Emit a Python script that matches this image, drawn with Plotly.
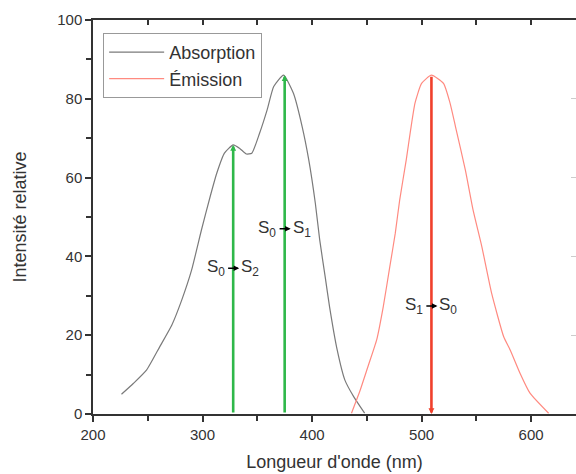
import plotly.graph_objects as go

# ---- data ----
abs_wl = [226, 237, 249, 261, 272, 281, 290, 299, 307, 313, 320, 328, 334, 340, 345,
          352, 359, 365, 374, 383, 391, 397, 403, 407, 412, 416, 423, 430, 438, 448]
abs_int = [5.0, 7.8, 11.2, 17.1, 22.6, 28.9, 36.5, 46.7, 55.2, 61.1, 66.2, 68.3, 67.4, 66.0, 66.2,
           71.2, 77.2, 83.1, 86.0, 81.4, 72.9, 64.5, 53.5, 44.2, 34.8, 27.2, 16.2, 8.6, 4.4, 0.2]

em_wl = [436, 444, 451, 459, 465, 471, 476, 480, 486, 490, 494, 500, 509, 520, 526,
         531, 540, 547, 555, 564, 575, 581, 590, 599, 616]
em_int = [0.2, 6.1, 12.0, 18.8, 27.2, 37.4, 45.9, 54.3, 64.5, 72.1, 78.9, 83.9, 86.0, 83.9, 78.9,
          72.9, 61.9, 51.8, 42.5, 30.6, 19.6, 16.2, 10.3, 5.3, 0.2]

# transitions: wavelength, intensity, from-state, to-state
trans_wl = [328, 375, 509]
trans_int = [68.3, 86.0, 86.0]
trans_from = ["0", "0", "1"]
trans_to = ["2", "1", "0"]
trans_kind = ["abs", "abs", "em"]

x_ticks = [200, 300, 400, 500, 600]
y_ticks = [0, 20, 40, 60, 80, 100]

# ---- style ----
FONT = "Liberation Sans, Arial, sans-serif"
TXT = "#333333"
GRAY = "#7a7a7a"
SALMON = "#ff8a80"
GREEN = "#2fb84a"
RED = "#f0402c"
label_y = [37.0, 47.0, 27.4]

fig = go.Figure()
fig.add_trace(go.Scatter(x=abs_wl, y=abs_int, mode="lines", name="Absorption",
                         line=dict(color=GRAY, width=1.2, shape="spline", smoothing=0.5)))
fig.add_trace(go.Scatter(x=em_wl, y=em_int, mode="lines", name="Émission",
                         line=dict(color=SALMON, width=1.2, shape="spline", smoothing=0.5)))
# invisible trace for mirrored axes
fig.add_trace(go.Scatter(x=[], y=[], xaxis="x2", yaxis="y2", showlegend=False,
                         hoverinfo="skip"))

annotations = []
for wl, h, f, t, kind, ly in zip(trans_wl, trans_int, trans_from, trans_to, trans_kind, label_y):
    col = GREEN if kind == "abs" else RED
    if kind == "abs":
        tip, tail = h, 0
    else:
        tip, tail = 0, h
    annotations.append(dict(x=wl, y=tip, ax=wl, ay=tail, xref="x", yref="y",
                            axref="x", ayref="y", showarrow=True, arrowhead=2,
                            arrowsize=0.45, arrowwidth=2.6, arrowcolor=col, text="",
                            standoff=0, startstandoff=0))
    # small black arrow across the line
    annotations.append(dict(x=wl + 5.5, y=ly, ax=wl - 6, ay=ly, xref="x", yref="y",
                            axref="x", ayref="y", showarrow=True, arrowhead=2,
                            arrowsize=0.7, arrowwidth=1.6, arrowcolor="#000000", text=""))
    annotations.append(dict(x=wl - 6, y=ly, xref="x", yref="y", xanchor="right",
                            yanchor="middle", showarrow=False,
                            text="S<sub>%s</sub>" % f,
                            font=dict(family=FONT, size=17, color=TXT)))
    annotations.append(dict(x=wl + 5.5, y=ly, xref="x", yref="y", xanchor="left",
                            yanchor="middle", showarrow=False,
                            text="S<sub>%s</sub>" % t,
                            font=dict(family=FONT, size=17, color=TXT)))

axis_common = dict(showgrid=False, zeroline=False, linecolor="#333333", linewidth=1.5,
                   tickcolor="#333333", tickwidth=1.5,
                   tickfont=dict(family=FONT, size=15, color=TXT))

fig.update_layout(
    width=576, height=474,
    margin=dict(l=93, r=0, t=20, b=60),
    paper_bgcolor="white", plot_bgcolor="white",
    font=dict(family=FONT, color=TXT),
    xaxis=dict(range=[200, 641], tickvals=x_ticks, ticks="outside", ticklen=6,
               showline=True,
               minor=dict(dtick=50, tick0=0, ticks="outside", ticklen=5,
                          tickcolor="#333333", tickwidth=1.5),
               title=dict(text="Longueur d'onde (nm)",
                          font=dict(family=FONT, size=18, color=TXT), standoff=14),
               **axis_common),
    yaxis=dict(range=[0, 100], tickvals=y_ticks, ticks="outside", ticklen=6,
               showline=True,
               minor=dict(dtick=10, tick0=0, ticks="outside", ticklen=5,
                          tickcolor="#333333", tickwidth=1.5),
               title=dict(text="Intensité relative",
                          font=dict(family=FONT, size=18, color=TXT), standoff=26),
               **axis_common),
    xaxis2=dict(overlaying="x", side="top", matches="x", range=[200, 641],
                tickvals=[250, 300, 350, 400, 450, 500, 550, 600], ticks="inside",
                ticklen=5, showticklabels=False, showline=True, anchor="y",
                showgrid=False, zeroline=False, linecolor="#333333", linewidth=1.5,
                tickcolor="#333333", tickwidth=1.5),
    yaxis2=dict(overlaying="y", side="right", range=[0, 100],
                tickvals=[20, 40, 60, 80], ticks="inside", ticklen=5,
                showticklabels=False, showline=False, anchor="x",
                showgrid=False, zeroline=False, tickcolor="#cccccc", tickwidth=1),
    legend=dict(x=0.021, y=0.967, xanchor="left", yanchor="top",
                bgcolor="white", bordercolor="#999999", borderwidth=1,
                font=dict(family=FONT, size=18, color=TXT),
                itemwidth=55, tracegroupgap=0),
    annotations=annotations,
    showlegend=True,
)

fig.write_html("out.html")
